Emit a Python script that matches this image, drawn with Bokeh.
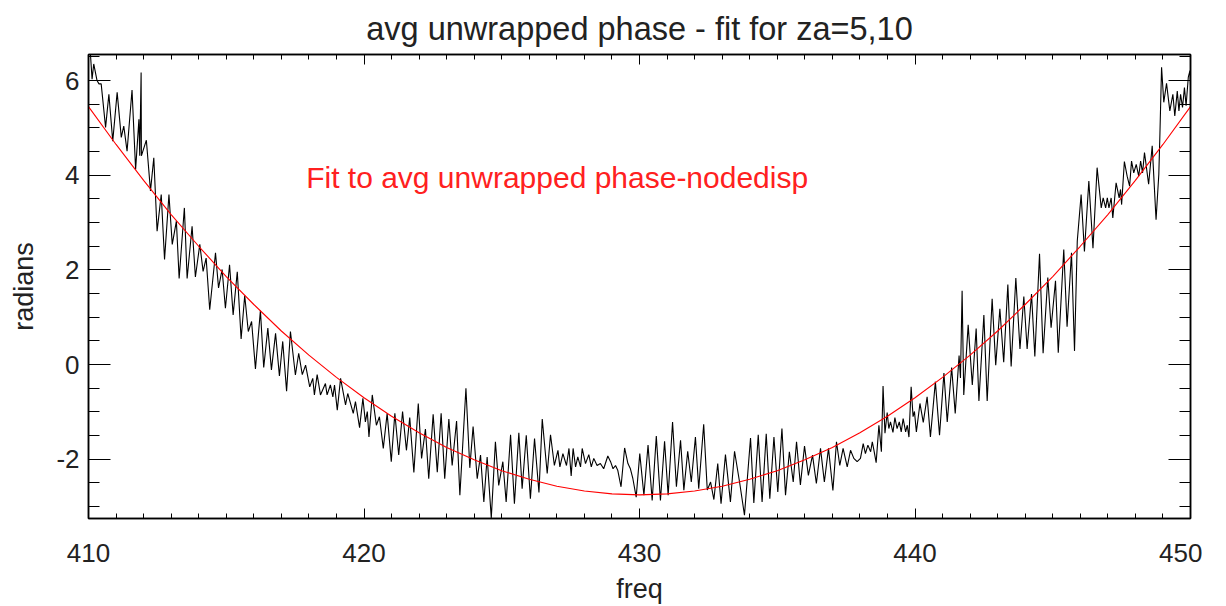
from bokeh.plotting import figure
from bokeh.models import Range1d, LinearAxis, SingleIntervalTicker, Label
from bokeh.embed import file_html
from bokeh.resources import INLINE

# ---------------- data ----------------
title_text = "avg unwrapped phase - fit for za=5,10"
x_label = "freq"
y_label = "radians"
fit_note = "Fit to avg unwrapped phase-nodedisp"

x_tick_values = [410, 420, 430, 440, 450]
x_tick_labels = ["410", "420", "430", "440", "450"]
y_tick_values = [-2, 0, 2, 4, 6]
y_tick_labels = ["-2", "0", "2", "4", "6"]

freq = [
    410.00, 410.07, 410.13, 410.19, 410.31, 410.38, 410.46, 410.62, 410.74, 410.88,
    411.04, 411.19, 411.28, 411.40, 411.58, 411.71, 411.83, 411.86, 411.91, 411.92,
    412.10, 412.25, 412.37, 412.49, 412.64, 412.76, 412.92, 413.04, 413.19, 413.29,
    413.48, 413.58, 413.76, 413.88, 414.04, 414.16, 414.27, 414.40, 414.61, 414.72,
    414.85, 414.97, 415.12, 415.25, 415.40, 415.54, 415.67, 415.80, 415.92, 416.06,
    416.24, 416.36, 416.51, 416.64, 416.79, 416.93, 417.05, 417.19, 417.33, 417.51,
    417.63, 417.76, 417.88, 418.03, 418.14, 418.20, 418.30, 418.42, 418.60, 418.66,
    418.78, 418.87, 418.93, 419.03, 419.15, 419.33, 419.41, 419.51, 419.61, 419.69,
    419.84, 419.96, 420.05, 420.12, 420.18, 420.30, 420.45, 420.56, 420.70, 420.84,
    420.99, 421.12, 421.26, 421.40, 421.54, 421.66, 421.81, 421.97, 422.09, 422.23,
    422.35, 422.51, 422.66, 422.80, 422.93, 423.08, 423.20, 423.36, 423.48, 423.70,
    423.84, 423.96, 424.11, 424.23, 424.35, 424.47, 424.62, 424.77, 424.89, 425.04,
    425.16, 425.32, 425.46, 425.62, 425.74, 425.89, 426.04, 426.19, 426.35, 426.47,
    426.65, 426.77, 426.91, 427.04, 427.11, 427.22, 427.35, 427.44, 427.52, 427.59,
    427.68, 427.76, 427.86, 427.92, 428.04, 428.16, 428.25, 428.34, 428.46, 428.58,
    428.70, 428.85, 428.95, 429.04, 429.13, 429.21, 429.33, 429.46, 429.58, 429.67,
    429.76, 429.88, 430.01, 430.16, 430.31, 430.46, 430.61, 430.76, 430.91, 431.04,
    431.20, 431.34, 431.49, 431.61, 431.75, 431.88, 432.03, 432.15, 432.33, 432.46,
    432.58, 432.70, 432.84, 432.96, 433.12, 433.30, 433.45, 433.64, 433.81, 434.03,
    434.15, 434.31, 434.45, 434.60, 434.73, 434.88, 435.02, 435.17, 435.30, 435.44,
    435.58, 435.70, 435.84, 435.99, 436.13, 436.28, 436.42, 436.57, 436.71, 436.86,
    437.02, 437.15, 437.27, 437.39, 437.54, 437.66, 437.78, 437.90, 438.02, 438.12,
    438.20, 438.29, 438.39, 438.45, 438.51, 438.59, 438.69, 438.78, 438.84, 438.91,
    438.99, 439.05, 439.11, 439.20, 439.27, 439.35, 439.43, 439.50, 439.57, 439.66,
    439.72, 439.78, 439.86, 439.93, 439.98, 440.05, 440.18, 440.30, 440.44, 440.56,
    440.74, 440.89, 441.05, 441.17, 441.33, 441.46, 441.60, 441.65, 441.71, 441.77,
    441.93, 442.08, 442.22, 442.32, 442.50, 442.62, 442.80, 442.93, 443.08, 443.22,
    443.37, 443.49, 443.66, 443.81, 443.95, 444.07, 444.23, 444.35, 444.52, 444.65,
    444.82, 444.94, 445.10, 445.20, 445.40, 445.52, 445.68, 445.79, 445.89, 446.03,
    446.15, 446.31, 446.46, 446.61, 446.76, 446.83, 446.92, 446.98, 447.04, 447.12,
    447.18, 447.30, 447.41, 447.46, 447.50, 447.60, 447.70, 447.79, 447.86, 447.94,
    448.03, 448.12, 448.19, 448.26, 448.33, 448.48, 448.61, 448.75, 448.85, 448.89,
    448.95, 449.03, 449.13, 449.25, 449.36, 449.43, 449.52, 449.58, 449.64, 449.71,
    449.78, 449.84, 449.92, 449.98, 450.00,
]

phase = [
    6.56, 6.56, 6.03, 6.35, 6.00, 5.93, 5.93, 5.01, 5.71, 4.72,
    5.75, 4.80, 5.04, 4.51, 5.80, 4.12, 5.18, 4.41, 6.17, 4.41,
    4.74, 3.67, 4.37, 2.82, 3.59, 2.22, 3.59, 2.54, 3.03, 1.82,
    3.31, 1.82, 2.92, 1.85, 2.54, 1.97, 2.25, 1.16, 2.36, 1.62,
    2.01, 1.19, 2.11, 1.05, 1.96, 0.54, 1.46, 0.70, 0.91, -0.09,
    1.14, -0.06, 0.77, -0.11, 0.66, -0.24, 0.49, -0.56, 0.70, -0.22,
    0.24, -0.21, -0.01, -0.47, -0.29, -0.64, -0.21, -0.64, -0.40, -0.64,
    -0.43, -0.68, -0.43, -0.96, -0.29, -0.85, -0.61, -0.82, -1.03, -0.78,
    -1.33, -0.71, -1.21, -0.99, -1.53, -0.64, -1.28, -1.10, -1.77, -1.03,
    -2.05, -1.03, -1.91, -0.99, -1.81, -1.12, -2.28, -0.82, -1.98, -1.36,
    -2.41, -1.05, -2.27, -1.03, -2.41, -1.15, -2.13, -1.19, -2.76, -0.50,
    -2.18, -1.31, -2.41, -1.91, -2.90, -1.95, -3.24, -1.63, -2.55, -2.05,
    -2.90, -1.48, -2.94, -1.44, -2.62, -1.49, -2.83, -1.56, -2.70, -1.15,
    -2.30, -1.48, -2.13, -1.81, -2.16, -1.88, -2.13, -1.77, -2.35, -1.77,
    -2.16, -1.95, -2.16, -1.77, -2.09, -1.90, -2.16, -1.98, -2.13, -2.09,
    -2.20, -1.93, -2.05, -2.20, -2.13, -2.23, -2.58, -1.76, -2.09, -2.20,
    -2.41, -2.80, -1.88, -2.76, -1.70, -2.87, -1.51, -2.87, -1.62, -2.76,
    -1.21, -2.58, -1.60, -2.65, -1.83, -2.48, -1.53, -2.62, -1.26, -2.65,
    -2.48, -2.85, -2.09, -2.94, -1.90, -2.90, -1.83, -2.51, -3.18, -1.55,
    -2.92, -1.48, -2.90, -1.46, -2.83, -1.53, -2.69, -1.35, -2.76, -1.84,
    -2.48, -1.63, -2.54, -1.72, -2.34, -1.91, -2.51, -1.77, -2.48, -1.77,
    -2.66, -1.63, -2.13, -1.77, -2.16, -1.81, -1.98, -2.05, -1.98, -1.67,
    -1.88, -1.70, -1.84, -1.63, -1.81, -2.07, -1.28, -1.84, -0.45, -1.45,
    -1.01, -1.35, -1.21, -1.43, -1.12, -1.35, -1.21, -1.42, -1.14, -1.42,
    -1.28, -1.53, -0.47, -1.10, -0.99, -1.42, -0.82, -1.22, -0.68, -1.53,
    -0.36, -1.49, -0.18, -1.21, -0.06, -1.03, 0.19, -0.28, 1.56, -0.64,
    0.84, -0.43, 0.76, -0.77, 1.05, -0.77, 1.39, -0.01, 1.18, 0.05,
    1.69, -0.04, 1.83, 0.33, 1.44, 0.33, 1.49, 0.17, 2.34, 0.24,
    1.84, 0.78, 1.77, 0.25, 2.43, 0.80, 2.36, 0.29, 2.61, 3.59,
    2.39, 3.88, 2.46, 4.16, 3.31, 3.52, 3.31, 3.52, 3.31, 3.52,
    3.10, 3.84, 3.52, 3.70, 3.38, 4.29, 3.98, 3.77, 4.30, 4.05,
    4.23, 3.98, 4.30, 4.05, 4.48, 3.81, 4.62, 3.06, 4.02, 4.87,
    6.28, 5.54, 5.94, 5.36, 5.71, 5.25, 5.78, 5.36, 5.71, 5.43,
    5.85, 5.47, 6.07, 6.21, 5.90,
]

fit_freq = [410, 411, 412, 413, 414, 415, 416, 417, 418, 419, 420,
            421, 422, 423, 424, 425, 426, 427, 428, 429, 430,
            431, 432, 433, 434, 435, 436, 437, 438, 439, 440,
            441, 442, 443, 444, 445, 446, 447, 448, 449, 450]
fit_phase = [5.45, 4.65, 3.89, 3.17, 2.50, 1.86, 1.27, 0.71, 0.20, -0.27, -0.70,
             -1.09, -1.44, -1.75, -2.01, -2.24, -2.42, -2.57, -2.67, -2.73, -2.75,
             -2.73, -2.67, -2.57, -2.42, -2.24, -2.01, -1.75, -1.44, -1.09, -0.70,
             -0.27, 0.20, 0.71, 1.27, 1.86, 2.50, 3.17, 3.89, 4.65, 5.45]

x_limits = (410, 450)
y_limits = (-3.25, 6.55)
x_major, x_minor_count = 10, 10
y_major, y_minor_count = 2, 4
note_pos = (417.9, 3.95)

# ---------------- figure ----------------
FONT = "Liberation Sans"
TXT = "#222222"

p = figure(frame_width=1102, frame_height=464, output_backend="svg", toolbar_location=None,
           x_range=Range1d(*x_limits), y_range=Range1d(*y_limits),
           min_border_left=88, min_border_right=12, min_border_top=53,
           min_border_bottom=72)

p.title.text = title_text
p.title.align = "center"
p.title.text_font = FONT
p.title.text_font_size = "32.5px"
p.title.text_font_style = "normal"
p.title.text_color = TXT
p.title.standoff = 16

p.grid.visible = False
p.outline_line_color = "black"
p.outline_line_width = 1.5
p.background_fill_color = "white"
p.border_fill_color = "white"


def style_x(ax, labels=True):
    ax.ticker = SingleIntervalTicker(interval=x_major, num_minor_ticks=x_minor_count)
    ax.major_tick_in = 10
    ax.major_tick_out = 0
    ax.minor_tick_in = 5
    ax.minor_tick_out = 0
    ax.axis_line_color = "black"
    ax.axis_line_width = 1.5
    ax.major_tick_line_color = "black"
    ax.minor_tick_line_color = "black"
    ax.major_label_text_font = FONT
    ax.major_label_text_color = TXT
    if labels:
        ax.major_label_text_font_size = "26px"
        ax.major_label_standoff = 25
        ax.major_label_overrides = dict(zip(x_tick_values, x_tick_labels))
    else:
        ax.major_label_text_font_size = "0px"
        ax.major_label_standoff = 0


def style_y(ax, labels=True):
    ax.ticker = SingleIntervalTicker(interval=y_major, num_minor_ticks=y_minor_count)
    ax.major_tick_in = 22
    ax.major_tick_out = 0
    ax.minor_tick_in = 11
    ax.minor_tick_out = 0
    ax.axis_line_color = "black"
    ax.axis_line_width = 1.5
    ax.major_tick_line_color = "black"
    ax.minor_tick_line_color = "black"
    ax.major_label_text_font = FONT
    ax.major_label_text_color = TXT
    if labels:
        ax.major_label_text_font_size = "26px"
        ax.major_label_standoff = 9
        ax.major_label_overrides = dict(zip(y_tick_values, y_tick_labels))
    else:
        ax.major_label_text_font_size = "0px"
        ax.major_label_standoff = 0


style_x(p.xaxis[0])
style_y(p.yaxis[0])
p.xaxis.axis_label = x_label
p.yaxis.axis_label = y_label
for ax in (p.xaxis[0], p.yaxis[0]):
    ax.axis_label_text_font = FONT
    ax.axis_label_text_font_size = "27px"
    ax.axis_label_text_font_style = "normal"
    ax.axis_label_text_color = TXT
p.xaxis.axis_label_standoff = 9
p.yaxis.axis_label_standoff = 14

top_ax = LinearAxis()
style_x(top_ax, labels=False)
p.add_layout(top_ax, "above")

right_ax = LinearAxis()
style_y(right_ax, labels=False)
p.add_layout(right_ax, "right")

p.line(freq, phase, line_color="black", line_width=1.1)
p.line(fit_freq, fit_phase, line_color="#ff0000", line_width=1.1)

p.add_layout(Label(x=note_pos[0], y=note_pos[1], text=fit_note,
                   text_font=FONT, text_font_size="30px", text_color="#ff2020",
                   text_baseline="middle", text_align="left"))

open("out.html", "w").write(file_html(p, INLINE))
